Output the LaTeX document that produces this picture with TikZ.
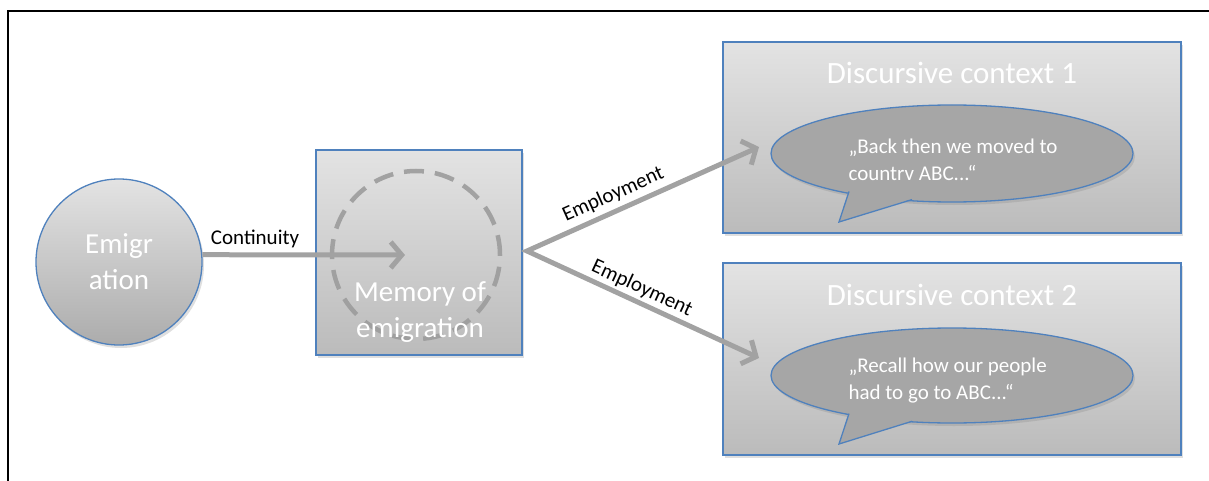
\documentclass[tikz,border=0pt]{standalone}
\usepackage{fontspec}
\setmainfont{Carlito}
\usetikzlibrary{arrows.meta,shapes.geometric,shadows}
\definecolor{bordblue}{HTML}{4F81BD}
\definecolor{arrgray}{HTML}{A2A2A2}
\definecolor{boxtop}{HTML}{E3E3E3}
\definecolor{boxbot}{HTML}{BBBBBB}
\definecolor{bubfill}{HTML}{A6A6A6}
\definecolor{dashgray}{HTML}{9C9C9C}
\begin{document}
\begin{tikzpicture}[x=1pt,y=-1pt,
  box/.style={draw=bordblue,line width=1.3pt,top color=boxtop,bottom color=boxbot,
    drop shadow={opacity=0.25,shadow xshift=2pt,shadow yshift=-3pt},inner sep=0pt},
  wtext/.style={text=white,align=center,font=\fontsize{29}{36}\selectfont},
  ttext/.style={text=white,font=\fontsize{31}{36}\selectfont},
  btext/.style={text=white,align=left,anchor=west,font=\fontsize{21}{27}\selectfont},
  lab/.style={text=black,font=\fontsize{21}{24}\selectfont,inner sep=2pt},
  conn/.style={draw=arrgray,line width=5pt,-{Straight Barb[length=11pt,width=26pt]}},
  bubble/.style={ellipse,draw=bordblue,line width=1.3pt,fill=bubfill,inner sep=0pt,
    drop shadow={opacity=0.25,shadow xshift=2pt,shadow yshift=-3pt}}]
\useasboundingbox (0,0) rectangle (1209,481);
% frame
\draw[line width=2pt,black] (8,481) -- (8,11) -- (1209,11);

% Emigration circle
\node[circle,draw=bordblue,line width=1.3pt,top color=boxtop,bottom color=boxbot!92!black,
  minimum size=166pt,inner sep=0pt,
  drop shadow={opacity=0.25,shadow xshift=2pt,shadow yshift=-3pt}] (emig) at (119,262) {};
\node[wtext] (emigtxt) at (119,262) {Emigr\\ation};

% Memory box
\node[box,minimum width=206pt,minimum height=205pt] (mem) at (419,252.5) {};
\node[circle,draw=dashgray,line width=4.5pt,dash pattern=on 20pt off 11pt,
  minimum size=168pt,inner sep=0pt,opacity=0.9] (dcirc) at (416,255) {};
\coordinate (conttip) at (405,255);
\draw[conn] (emig.5) -- node[lab,pos=0.26,above=2pt] (contlab) {Continuity} (conttip);
\node[wtext] (memtxt) at (420,312) {Memory of\\emigration};

% Context boxes
\node[box,minimum width=458pt,minimum height=191pt] (ctx1) at (952,137.5) {};
\node[box,minimum width=458pt,minimum height=192pt] (ctx2) at (952,359) {};
\node[ttext] (t1) at (952,73) {Discursive context 1};
\node[ttext] (t2) at (952,295) {Discursive context 2};

% Bubble 1
\node[bubble,minimum width=362pt,minimum height=97pt] (b1) at (952,153.5) {};
\fill[bubfill] (849.5,188) -- (839,222) -- (912,199) -- (905,190) -- cycle;
\draw[bordblue,line width=1.3pt,line join=miter] (849,191.5) -- (839,222) -- (912,199.6);
\node[btext] (b1txt) at (845,160) {„Back then we moved to\\countrv ABC...“};

% Bubble 2
\node[bubble,minimum width=362pt,minimum height=95pt] (b2) at (952,375.5) {};
\fill[bubfill] (849.5,410) -- (839,444) -- (912,421) -- (905,412) -- cycle;
\draw[bordblue,line width=1.3pt,line join=miter] (849,413.6) -- (839,444) -- (912,421.3);
\node[btext] (b2txt) at (845,381) {„Recall how our people\\had to go to ABC...“};

% Employment arrows
\coordinate (fork) at (527,251);
\coordinate (tip1) at (759,147);
\coordinate (tip2) at (759,358);
\draw[draw=arrgray,line width=5pt,line join=miter,
  {Straight Barb[length=11pt,width=26pt]}-{Straight Barb[length=11pt,width=26pt]}]
  (tip1) -- (fork) -- (tip2);
\path (fork) -- node[lab,pos=0.4,above=5pt,sloped] (emp1) {Employment} (tip1);
\path (fork) -- node[lab,pos=0.47,above=3pt,sloped] (emp2) {Employment} (tip2);
\end{tikzpicture}
\end{document}
